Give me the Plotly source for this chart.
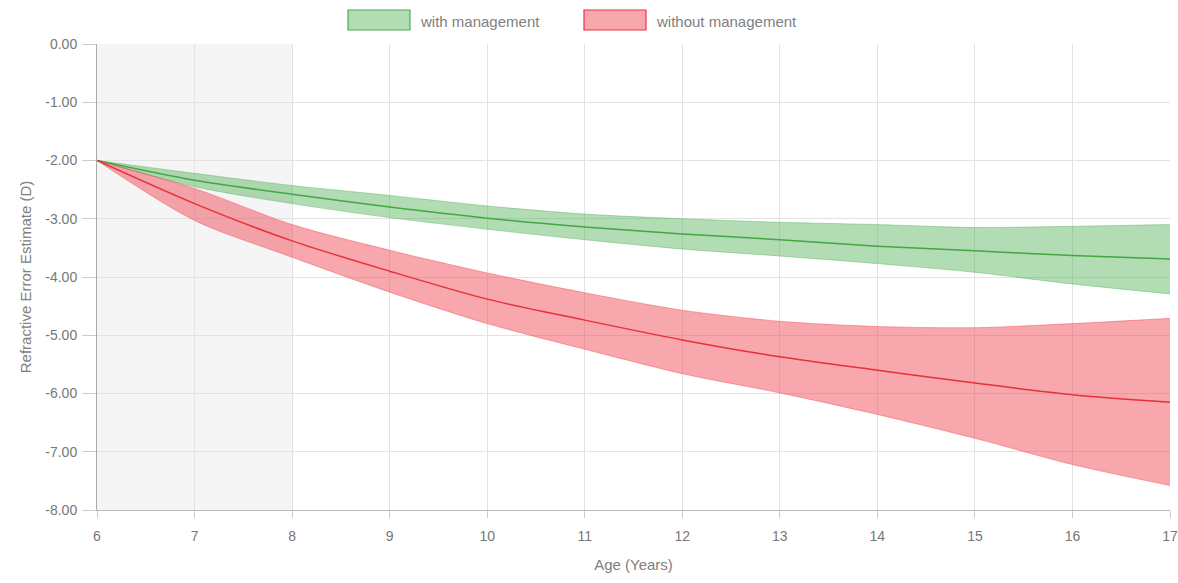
import plotly.graph_objects as go

ages = [6, 7, 8, 9, 10, 11, 12, 13, 14, 15, 16, 17]

with_center = [-2.0, -2.34, -2.58, -2.80, -2.99, -3.14, -3.26, -3.36, -3.47, -3.55, -3.63, -3.69]
with_upper = [-2.0, -2.22, -2.43, -2.60, -2.78, -2.92, -3.00, -3.06, -3.10, -3.15, -3.13, -3.10]
with_lower = [-2.0, -2.45, -2.74, -2.98, -3.18, -3.36, -3.52, -3.64, -3.77, -3.92, -4.12, -4.29]

without_center = [-2.0, -2.74, -3.38, -3.90, -4.38, -4.74, -5.08, -5.37, -5.60, -5.82, -6.02, -6.15]
without_upper = [-2.0, -2.48, -3.10, -3.54, -3.93, -4.27, -4.57, -4.76, -4.85, -4.87, -4.80, -4.71]
without_lower = [-2.0, -3.03, -3.66, -4.26, -4.80, -5.24, -5.66, -5.99, -6.36, -6.77, -7.22, -7.58]

y_ticks = [0, -1, -2, -3, -4, -5, -6, -7, -8]
y_tick_labels = ["0.00", "-1.00", "-2.00", "-3.00", "-4.00", "-5.00", "-6.00", "-7.00", "-8.00"]
x_ticks = ages
shaded_range = [6, 8]

series = [
    ("with management", with_upper, with_center, with_lower,
     "rgba(76,175,80,0.43)", "rgba(76,175,80,0.5)", "#43a843"),
    ("without management", without_upper, without_center, without_lower,
     "rgba(240,60,70,0.45)", "rgba(240,60,70,0.5)", "#e8303a"),
]

fig = go.Figure()
for name, up, cen, lo, fill, edge, line in series:
    fig.add_trace(go.Scatter(x=ages, y=up, mode="lines", showlegend=False,
                             line=dict(color=edge, width=0.8, shape="spline", smoothing=0.8),
                             hoverinfo="skip"))
    fig.add_trace(go.Scatter(x=ages, y=lo, mode="lines", showlegend=False, name=name,
                             fill="tonexty", fillcolor=fill,
                             line=dict(color=edge, width=0.8, shape="spline", smoothing=0.8),
                             hoverinfo="skip"))
    fig.add_trace(go.Scatter(x=ages, y=cen, mode="lines", showlegend=False, name=name,
                             line=dict(color=line, width=1.5, shape="spline", smoothing=0.8)))

font_family = "'Liberation Sans', Arial, sans-serif"
fig.add_shape(type="rect", xref="x", yref="y", x0=shaded_range[0], x1=shaded_range[1],
              y0=0, y1=-8, fillcolor="#f5f5f5", line=dict(width=0), layer="below")

FW, FH = 1178, 583
ML, MR, MT, MB = 97, 8, 44, 73
PW = FW - ML - MR
PH = FH - MT - MB


def px(x):
    return (x - ML) / PW


def py(y):
    return (FH - MB - y) / PH


legend_items = [
    ("with management", 348, "rgba(76,175,80,0.43)", "#4caf50"),
    ("without management", 584, "rgba(240,60,70,0.45)", "#ef3340"),
]
for label, x0, fill, border in legend_items:
    fig.add_shape(type="rect", xref="paper", yref="paper",
                  x0=px(x0), x1=px(x0 + 62), y0=py(30), y1=py(10),
                  fillcolor=fill, line=dict(color=border, width=1.2))
    fig.add_annotation(xref="paper", yref="paper", x=px(x0 + 70), y=py(21),
                       text=label, showarrow=False, xanchor="left", yanchor="middle",
                       font=dict(family=font_family, size=15, color="#808080"))

fig.update_layout(
    width=FW, height=FH,
    margin=dict(l=ML, r=MR, t=MT, b=MB, autoexpand=False),
    plot_bgcolor="white", paper_bgcolor="white",
    font=dict(family=font_family, size=14, color="#777"),
    showlegend=False,
)
fig.update_xaxes(range=[6, 17], tickvals=x_ticks, showgrid=True, gridcolor="#e3e3e3",
                 showline=True, linecolor="#bbb", ticks="outside", ticklen=7, tickcolor="#ccc",
                 ticklabelstandoff=6, ticklabeloverflow="allow",
                 zeroline=False, automargin=False,
                 title=dict(text="Age (Years)", standoff=16,
                            font=dict(size=15, color="#808080")),
                 layer="above traces")
fig.update_yaxes(range=[-8, 0], tickvals=y_ticks, ticktext=y_tick_labels, showgrid=True,
                 gridcolor="#e3e3e3", showline=True, linecolor="#aaa", ticks="outside",
                 ticklen=14, tickcolor="#ccc", zeroline=False, automargin=False,
                 ticklabelstandoff=2,
                 title=dict(text="Refractive Error Estimate (D)", standoff=10,
                            font=dict(size=15, color="#808080")),
                 layer="above traces")

fig.write_html("out.html", config={"displayModeBar": False},
               post_script="document.body.style.margin='0';document.body.style.overflow='hidden';")
